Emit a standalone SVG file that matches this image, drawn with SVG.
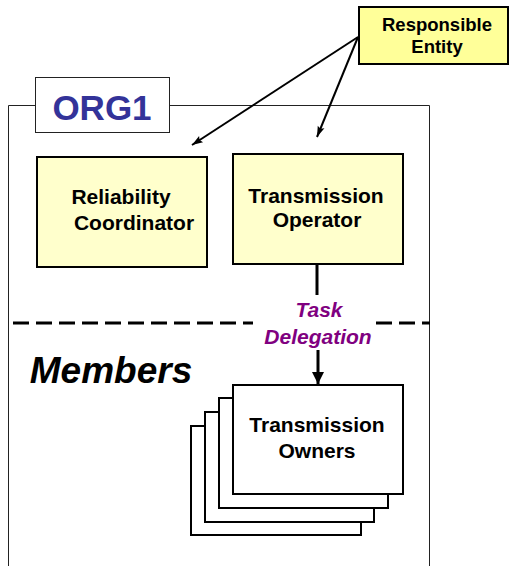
<svg xmlns="http://www.w3.org/2000/svg" width="509" height="566" viewBox="0 0 509 566">
  <style>
    text { font-family: "Liberation Sans", Arial, sans-serif; font-weight: bold; text-anchor: middle; }
    .box { fill: #FFFFCC; stroke: #000; stroke-width: 2; }
    .owner { fill: #fff; stroke: #000; stroke-width: 2; }
    .lbl { font-size: 21px; fill: #000; }
    .edge { stroke: #000; fill: none; }
  </style>
  <defs>
    <marker id="arrow" viewBox="0 0 12 10" refX="12" refY="5" markerWidth="12" markerHeight="9" markerUnits="userSpaceOnUse" orient="auto">
      <path d="M0,1 L12,5 L0,9 L2,5 Z" fill="#000"/>
    </marker>
    <marker id="arrowBig" viewBox="0 0 10 10" refX="10" refY="5" markerWidth="14" markerHeight="12" markerUnits="userSpaceOnUse" orient="auto">
      <path d="M0,0 L10,5 L0,10 Z" fill="#000"/>
    </marker>
  </defs>

  <!-- organisation frame -->
  <g id="org1-frame">
    <path d="M8.5,566 L8.5,105.5 L429.5,105.5 L429.5,566" fill="none" stroke="#222" stroke-width="1"/>
  </g>
  <g id="org1-label">
    <rect x="35.5" y="77.5" width="134" height="55" fill="#fff" stroke="#222" stroke-width="1"/>
    <text x="102" y="120" style="font-size:35px; fill:#333399">ORG1</text>
  </g>

  <g id="responsible-entity">
    <rect x="359" y="7" width="149" height="57" fill="#FFFF99" stroke="#000" stroke-width="2"/>
    <text x="437" y="31" style="font-size:18.5px">Responsible</text>
    <text x="437" y="53" style="font-size:18.5px">Entity</text>
  </g>

  <g id="reliability-coordinator">
    <rect class="box" x="37" y="157" width="170" height="110"/>
    <text class="lbl" x="121" y="204">Reliability</text>
    <text class="lbl" x="134" y="230">Coordinator</text>
  </g>

  <g id="transmission-operator">
    <rect class="box" x="233" y="154" width="170" height="110"/>
    <text class="lbl" x="316" y="203">Transmission</text>
    <text class="lbl" x="317" y="227">Operator</text>
  </g>

  <!-- boundary between organisation and members -->
  <g id="members-boundary">
    <line x1="13" y1="323" x2="253" y2="323" stroke="#000" stroke-width="3" stroke-dasharray="16,7"/>
    <line x1="376" y1="323" x2="430" y2="323" stroke="#000" stroke-width="3" stroke-dasharray="16,7"/>
    <text x="111" y="383" style="font-size:37px; font-style:italic">Members</text>
  </g>

  <g id="transmission-owners">
    <rect class="owner" x="191" y="426" width="170" height="109"/>
    <rect class="owner" x="205" y="412" width="169" height="110"/>
    <rect class="owner" x="219" y="398" width="169" height="110"/>
    <rect class="owner" x="233" y="385" width="170" height="109"/>
    <text class="lbl" x="317" y="432">Transmission</text>
    <text class="lbl" x="317" y="458">Owners</text>
  </g>

  <g id="connectors">
    <line class="edge" x1="358" y1="37" x2="192" y2="145" stroke-width="2" marker-end="url(#arrow)"/>
    <line class="edge" x1="358" y1="37" x2="317" y2="137" stroke-width="2" marker-end="url(#arrow)"/>
    <line class="edge" x1="317" y1="264" x2="317" y2="295" stroke-width="3"/>
    <line class="edge" x1="318" y1="350" x2="318" y2="384" stroke-width="3" marker-end="url(#arrowBig)"/>
    <text x="319" y="317" style="font-size:21px; font-style:italic; fill:#800080">Task</text>
    <text x="318" y="344" style="font-size:21px; font-style:italic; fill:#800080">Delegation</text>
  </g>
</svg>
